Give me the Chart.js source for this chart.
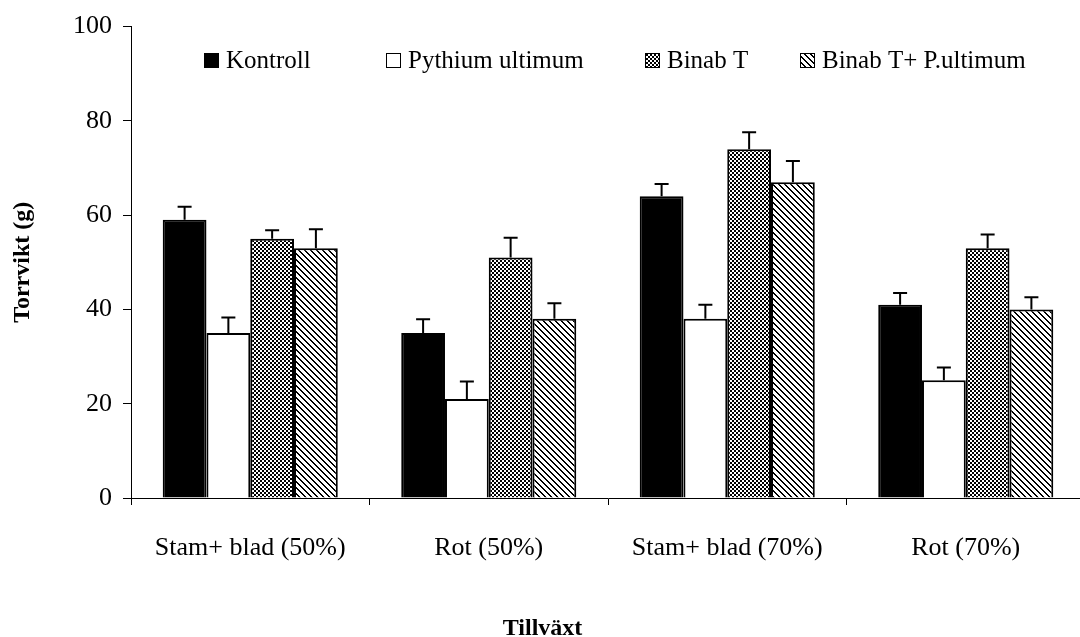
<!DOCTYPE html>
<html>
<head>
<meta charset="utf-8">
<script src="https://cdn.jsdelivr.net/npm/chart.js@4"></script>
<style>
  html, body { margin: 0; padding: 0; background: #fff; overflow: hidden; }
</style>
</head>
<body>
<canvas id="myChart" width="1085" height="637"></canvas>
<script>
const categories = ['Stam+ blad (50%)', 'Rot (50%)', 'Stam+ blad (70%)', 'Rot (70%)']
const seriesNames = ['Kontroll', 'Pythium ultimum', 'Binab T', 'Binab T+ P.ultimum']

const kontroll = [59, 35, 64, 41]
const pythium = [35, 21, 38, 25]
const binab = [55, 51, 74, 53]
const binabPythium = [53, 38, 67, 40]

// upper error bars
const kontrollErr = [2.8, 2.9, 2.6, 2.5]
const pythiumErr = [3.3, 3.7, 3, 2.7]
const binabErr = [1.8, 4.2, 3.6, 2.9]
const binabPythiumErr = [4, 3.3, 4.5, 2.6]

const yTicks = [0, 20, 40, 60, 80, 100]

const FONT = '"Liberation Serif", "Times New Roman", serif'

function makeTile(size, drawFn) {
    const c = document.createElement('canvas')
    c.width = size
    c.height = size
    const g = c.getContext('2d')
    g.fillStyle = '#fff'
    g.fillRect(0, 0, size, size)
    g.fillStyle = '#000'
    drawFn(g)
    return c
}

const ctx = document.getElementById('myChart')
const g2 = ctx.getContext('2d')

const checker = g2.createPattern(makeTile(4, g => {
    g.fillRect(0, 0, 2, 2)
    g.fillRect(2, 2, 2, 2)
}), 'repeat')

const diagonal = g2.createPattern(makeTile(6, g => {
    for (let i = 0; i < 6; i++) {
        g.fillRect(i, i, 1, 1)
        g.fillRect((i + 1) % 6, i, 1, 1)
    }
}), 'repeat')

const errorBars = {
    id: 'errorBars',
    afterDatasetsDraw(chart) {
        const c = chart.ctx
        const y = chart.scales.y
        c.save()
        c.strokeStyle = '#000'
        c.lineWidth = 2
        chart.data.datasets.forEach((ds, i) => {
            const meta = chart.getDatasetMeta(i)
            meta.data.forEach((bar, j) => {
                const top = y.getPixelForValue(ds.data[j] + ds.errors[j])
                c.beginPath()
                c.moveTo(bar.x, bar.y)
                c.lineTo(bar.x, top)
                c.moveTo(bar.x - 7, top)
                c.lineTo(bar.x + 7, top)
                c.stroke()
            })
        })
        c.restore()
    }
}

const legendBoxes = [204, 386, 645, 800]
const inlineLegend = {
    id: 'inlineLegend',
    afterDraw(chart) {
        const c = chart.ctx
        c.save()
        c.font = '25px "Liberation Serif"'
        c.textBaseline = 'middle'
        chart.data.datasets.forEach((ds, i) => {
            const x = legendBoxes[i]
            const yc = 60
            c.fillStyle = ds.backgroundColor
            c.fillRect(x, yc - 7, 15, 15)
            c.strokeStyle = '#000'
            c.lineWidth = 1
            c.strokeRect(x + 0.5, yc - 6.5, 14, 14)
            c.fillStyle = '#000'
            c.fillText(ds.label, x + 22, yc + 1)
        })
        c.restore()
    }
}

new Chart(ctx, {
    type: 'bar',
    data: {
        labels: categories,
        datasets: [
            {label: seriesNames[0], data: kontroll, errors: kontrollErr, backgroundColor: '#000', borderColor: '#000', borderWidth: 2},
            {label: seriesNames[1], data: pythium, errors: pythiumErr, backgroundColor: '#fff', borderColor: '#000', borderWidth: 2},
            {label: seriesNames[2], data: binab, errors: binabErr, backgroundColor: checker, borderColor: '#000', borderWidth: 2},
            {label: seriesNames[3], data: binabPythium, errors: binabPythiumErr, backgroundColor: diagonal, borderColor: '#000', borderWidth: 2},
        ],
    },
    options: {
        responsive: false,
        animation: false,
        devicePixelRatio: 1,
        categoryPercentage: 0.734,
        barPercentage: 1,
        layout: {
            padding: {top: 22, right: 0, bottom: 0, left: 0}
        },
        plugins: {
            legend: {display: false},
            tooltip: {enabled: false},
            title: {
                display: true,
                position: 'bottom',
                text: 'Tillväxt',
                color: '#000',
                font: {family: FONT, size: 24, weight: 'bold', lineHeight: 1},
                padding: {top: 0, bottom: -4}
            }
        },
        scales: {
            x: {
                border: {color: '#000', width: 1},
                grid: {drawOnChartArea: false, tickLength: 7, color: '#000', offset: true},
                ticks: {color: '#000', padding: 28, font: {family: FONT, size: 26}},
                afterFit: s => { s.height = 119 }
            },
            y: {
                min: 0,
                max: 100,
                afterBuildTicks: s => { s.ticks = yTicks.map(v => ({value: v})) },
                border: {color: '#000', width: 1},
                grid: {drawOnChartArea: false, tickLength: 8, color: '#000'},
                ticks: {color: '#000', padding: 11, font: {family: FONT, size: 26}},
                title: {
                    display: true,
                    text: 'Torrvikt (g)',
                    color: '#000',
                    font: {family: FONT, size: 24, weight: 'bold'},
                    padding: {top: 8, bottom: 0}
                },
                afterFit: s => { s.width = 131 }
            }
        }
    },
    plugins: [errorBars, inlineLegend]
})
</script>
</body>
</html>
